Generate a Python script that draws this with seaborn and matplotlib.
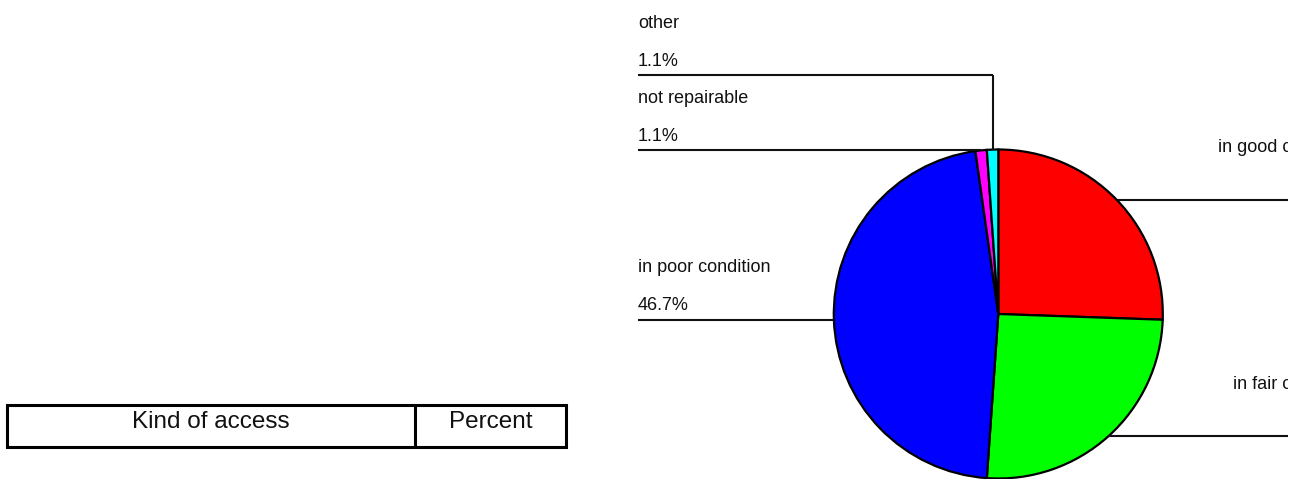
import numpy as np
import matplotlib
matplotlib.use("Agg")
import matplotlib.pyplot as plt
from matplotlib.patches import Rectangle
import seaborn as sns

# Condition of access, counts per category
categories = ["in good condition", "in fair condition", "in poor condition",
              "not repairable", "other"]
counts = [23, 23, 42, 1, 1]
slice_colors = ["#ff0000", "#00ff00", "#0000ff", "#ff00ff", "#00ffff"]
table_headers = ["Kind of access", "Percent"]

sns.set_theme(style="white")
plt.rcParams["font.family"] = ["Liberation Sans", "DejaVu Sans"]

W, H = 1304, 479
fig = plt.figure(figsize=(W / 100, H / 100), dpi=100)
fig.patch.set_facecolor("white")

# Drawing area in pixel units (y measured upward), clipped on the right
clip_w = 1288
ax = fig.add_axes([0, 0, clip_w / W, 1])
ax.set_xlim(0, clip_w)
ax.set_ylim(0, H)
ax.set_axis_off()

palette = sns.color_palette(slice_colors)
cx, cy, r = 998.3, H - 314.0, 164.5
wedges, _ = ax.pie(counts, colors=palette, startangle=90, counterclock=False,
                   center=(cx, cy), radius=r, frame=True,
                   wedgeprops=dict(edgecolor="black", linewidth=1.6))
ax.set_xlim(0, clip_w)
ax.set_ylim(0, H)
ax.set_aspect("equal", adjustable="box")
ax.set_axis_off()

total = sum(counts)
pcts = [f"{c / total * 100:.1f}%" for c in counts]

fs = 13
line_kw = dict(color="#111111", linewidth=1.5, solid_capstyle="butt")
txt_kw = dict(fontsize=fs, color="#111111", va="baseline")


def mid_point(w):
    a = np.deg2rad((w.theta1 + w.theta2) / 2)
    return cx + r * np.cos(a), cy + r * np.sin(a)


left_x = 638
right_x = 1355

for i, (w, name, pct) in enumerate(zip(wedges, categories, pcts)):
    mx, my = mid_point(w)
    if name == "other":
        ly = H - 75
        ax.plot([mx, mx], [my, ly], **line_kw)
        ax.plot([left_x, mx], [ly, ly], **line_kw)
        tx, ha = left_x, "left"
    elif mx < cx:
        ly = my
        ax.plot([left_x, mx], [ly, ly], **line_kw)
        tx, ha = left_x, "left"
    else:
        ly = my
        ax.plot([mx, clip_w + 10], [ly, ly], **line_kw)
        tx, ha = right_x, "right"
    ax.text(tx, ly + 9.5, pct, ha=ha, clip_on=True, **txt_kw)
    ax.text(tx, ly + 47.5, name, ha=ha, clip_on=True, **txt_kw)

# Header row of the summary table
tx0, tx1, tdiv = 7.5, 566, 415
ty_top, ty_bot = H - 405, H - 447.3
ax.add_patch(Rectangle((tx0, ty_bot), tx1 - tx0, ty_top - ty_bot,
                       fill=False, edgecolor="black", linewidth=2.2))
ax.plot([tdiv, tdiv], [ty_bot, ty_top], color="black", linewidth=2.2)
ax.text((tx0 + tdiv) / 2, H - 428.3, table_headers[0], ha="center",
        va="baseline", fontsize=17.5, color="#111111")
ax.text((tdiv + tx1) / 2, H - 428.3, table_headers[1], ha="center",
        va="baseline", fontsize=17.5, color="#111111")

fig.savefig("out.png", dpi=100, facecolor="white")
